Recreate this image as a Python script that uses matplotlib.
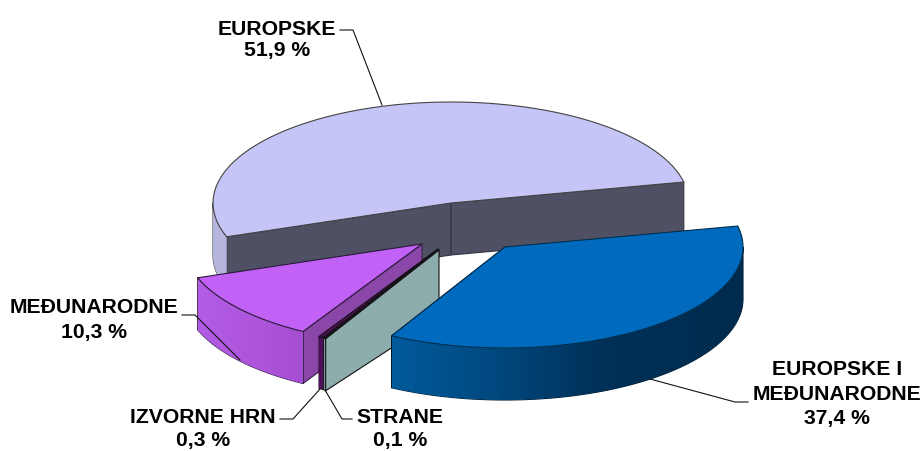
import numpy as np
import matplotlib
matplotlib.use("Agg")
import matplotlib.pyplot as plt
from matplotlib.colors import to_rgb, LinearSegmentedColormap
from matplotlib.patches import Polygon

plt.rcParams['font.family'] = ['Liberation Sans', 'DejaVu Sans']

# data, clockwise from the right edge of the big slice
names = ['EUROPSKE I\nMEĐUNARODNE', 'STRANE', 'IZVORNE HRN', 'MEĐUNARODNE', 'EUROPSKE']
shares = [37.4, 0.1, 0.3, 10.3, 51.9]
decimal_labels = ['37,4 %', '0,1 %', '0,3 %', '10,3 %', '51,9 %']

START_ANGLE = 12.0
RX, RY = 238.0, 101.0
DEPTH = 52.0

# pixel position of each slice tip (exploded pie)
tips = {'EUROPSKE': (451, 203), 'EUROPSKE I': (505, 247), 'MEDU': (422, 244),
        'IZVORNE': (438, 249), 'STRANE': (439, 250)}


def warp(a):
    # the 3D view skews the angles a little
    return a - 5.9 * np.sin(np.radians(a - START_ANGLE))


def rim(tip, a, down=0.0):
    a = np.radians(np.asarray(a, dtype=float))
    return np.column_stack([tip[0] + RX * np.cos(a), tip[1] - RY * np.sin(a) + down])


def top_face(ax, tip, a0, a1, color, ec='#222222', lw=0.8):
    arc = rim(tip, np.linspace(a0, a1, 80))
    ax.add_patch(Polygon(np.vstack([[tip], arc]), closed=True, fc=color, ec=ec, lw=lw, joinstyle='round'))


def cut_face(ax, tip, a, color, ec='#222222', lw=0.8, tip_depth=DEPTH):
    p = rim(tip, [a])[0]
    pts = [tip, p, (p[0], p[1] + DEPTH), (tip[0], tip[1] + tip_depth)]
    ax.add_patch(Polygon(pts, closed=True, fc=color, ec=ec, lw=lw, joinstyle='round'))


def wall(ax, tip, a0, a1, stops, ec='#222222', lw=0.8, n=90):
    # outer wall, a horizontal gradient image clipped to the wall outline
    angs = np.linspace(a0, a1, n + 1)
    up = rim(tip, angs)
    lo = rim(tip, angs, DEPTH)
    outline = Polygon(np.vstack([up, lo[::-1]]), closed=True, fc='none', ec=ec, lw=lw, joinstyle='round')
    ax.add_patch(outline)
    cmap = LinearSegmentedColormap.from_list('w', [(s[0], to_rgb(s[1])) for s in stops])
    x0, x1 = up[:, 0].min(), up[:, 0].max()
    y0, y1 = up[:, 1].min(), lo[:, 1].max()
    im = ax.imshow(np.linspace(0, 1, 256).reshape(1, -1), cmap=cmap, aspect='auto',
                   extent=(x0, x1, y1, y0), interpolation='bilinear', zorder=outline.get_zorder())
    im.set_clip_path(outline)
    return im


fig = plt.figure(figsize=(9.21, 4.51), dpi=100)
ax = fig.add_axes([0, 0, 1, 1])

spans = np.array(shares) / sum(shares) * 360.0
edges = START_ANGLE - np.concatenate([[0], np.cumsum(spans)])
a = warp(edges)
back_end = a[4] + 360

# big back slice first, then front ones over it
t = tips['EUROPSKE']
cut_face(ax, t, back_end, '#505064', ec='#333344')
cut_face(ax, t, a[0], '#505064', ec='#333344')
wall(ax, t, 180, back_end, [(0, '#B5B5DE'), (1, '#B5B5DE')], ec='#444444')
top_face(ax, t, a[0], back_end, '#C5C5F7', ec='#444444')

t = tips['MEDU']
cut_face(ax, t, a[3], '#8A46A8', ec='#3a2050')
wall(ax, t, a[4], a[3], [(0, '#B25CE6'), (0.5, '#AE55DC'), (1, '#A64ED2')], ec='#2a1a3a')
top_face(ax, t, a[3], a[4], '#C261F5', ec='#2a1a3a')

t = tips['IZVORNE']
cut_face(ax, t, a[2], '#4B0F55', ec='#111111')
wall(ax, t, a[3], a[2], [(0, '#4F0F5A'), (1, '#4F0F5A')], ec='#111111', n=4)
top_face(ax, t, a[2], a[3], '#4F0F5A', ec='#111111')

t = tips['STRANE']
wall(ax, t, a[2], a[1], [(0, '#9CC4C0'), (1, '#9CC4C0')], ec='#222222', n=2)
top_face(ax, t, a[1], a[2], '#B5D5D0', ec='#111111')
cut_face(ax, t, a[1], '#8CADAB', ec='#111111', tip_depth=67)

t = tips['EUROPSKE I']
cut_face(ax, t, a[1], '#003A66', ec='#001a30')
wall(ax, t, a[1], 0, [(0, '#005A9C'), (0.3, '#00487E'), (0.6, '#003058'), (1, '#002B4E')], ec='#00182c')
top_face(ax, t, a[0], a[1], '#006ABF', ec='#00304f')

# leader lines
leaders = [([340, 353, 382], [30, 30, 105]),
           ([182, 195, 240], [315, 315, 360]),
           ([650, 735, 748], [379, 402, 402]),
           ([280, 293, 320], [419, 419, 389]),
           ([352, 342, 325], [419, 419, 390])]
for lx, ly in leaders:
    ax.plot(lx, ly, color='#111111', lw=0.8, solid_joinstyle='miter')

# labels, same order as names
label_pos = [(837, 394), (400, 429), (203, 429), (94, 320), (277, 40)]
spacing = [1.38, 1.26, 1.26, 1.42, 1.15]
for name, lab, (x, y), sp in zip(names, decimal_labels, label_pos, spacing):
    ax.text(x, y, f'{name}\n{lab}', ha='center', va='center', fontsize=15.2, fontweight='bold',
            color='black', linespacing=sp)

ax.set_xlim(0, 921)
ax.set_ylim(451, 0)
ax.axis('off')

fig.savefig('out.png', dpi=100)
